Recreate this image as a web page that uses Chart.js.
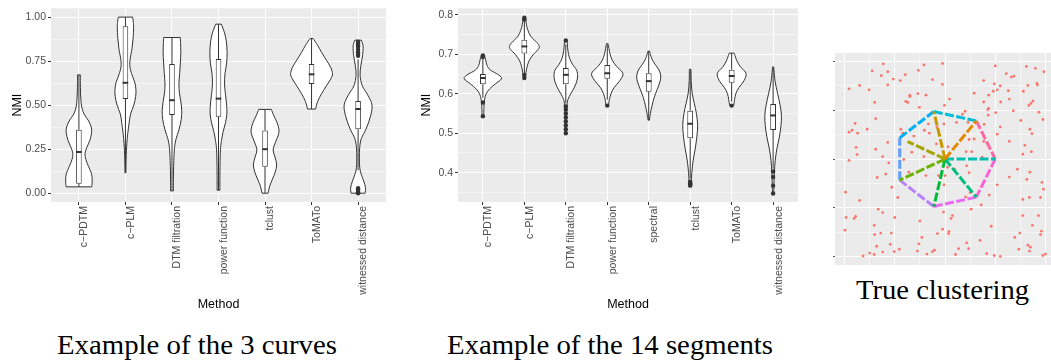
<!DOCTYPE html>
<html><head><meta charset="utf-8">
<script src="https://cdn.jsdelivr.net/npm/chart.js@4.4.1/dist/chart.umd.min.js"></script>
<style>
html,body{margin:0;padding:0;background:#fff;width:1051px;height:360px;overflow:hidden;position:relative;}
canvas{position:absolute;}
.cap{position:absolute;font-family:"Liberation Serif","DejaVu Serif",serif;font-size:26.7px;color:#000;white-space:nowrap;line-height:1;transform-origin:0 0;}
</style></head><body>
<canvas id="c1" width="400" height="312" style="left:0px;top:0px"></canvas>
<canvas id="c2" width="400" height="312" style="left:410px;top:0px"></canvas>
<canvas id="c3" width="240" height="230" style="left:820px;top:40px"></canvas>
<div class="cap" id="cap1">Example of the 3 curves</div>
<div class="cap" id="cap2">Example of the 14 segments</div>
<div class="cap" id="cap3">True clustering</div>
<script>
// ---------- Panel 1: 3 curves ----------
const curvesMethods = ['c\u2212PDTM','c\u2212PLM','DTM filtration','power function','tclust','ToMATo','witnessed distance'];
const curvesYTicks = [0,0.125,0.25,0.375,0.5,0.625,0.75,0.875,1];
const curvesYRange = [-0.05, 1.05];
const curvesLow  = [0.036,0.116,0.013,0.017,0.0,0.478,0.13];
const curvesQ1   = [0.054,0.535,0.444,0.434,0.15,0.62,0.363];
const curvesMed  = [0.234,0.627,0.528,0.537,0.25,0.675,0.478];
const curvesQ3   = [0.36,0.948,0.734,0.762,0.356,0.734,0.524];
const curvesHigh = [0.672,1.0,0.884,0.96,0.476,0.878,0.76];
const curvesOutliers = [[],[],[],[],[],[],[0,0.006,0.012,0.02,0.028,0.78,0.79,0.80,0.815,0.83,0.84,0.85,0.86]];
// violin density profiles: [NMI value, half width in category units]
const curvesViolins = [
 [[0.036,0.276],[0.07,0.285],[0.11,0.272],[0.15,0.21],[0.19,0.15],[0.225,0.13],[0.26,0.17],[0.30,0.235],[0.34,0.27],[0.37,0.27],[0.41,0.21],[0.45,0.11],[0.49,0.06],[0.54,0.04],[0.60,0.032],[0.672,0.03]],
 [[0.116,0.01],[0.2,0.015],[0.28,0.03],[0.34,0.05],[0.40,0.08],[0.45,0.11],[0.50,0.18],[0.55,0.22],[0.59,0.225],[0.63,0.2],[0.68,0.13],[0.72,0.095],[0.76,0.1],[0.82,0.14],[0.88,0.165],[0.94,0.175],[0.97,0.17],[1.0,0.155]],
 [[0.013,0.03],[0.08,0.03],[0.15,0.035],[0.22,0.045],[0.27,0.06],[0.31,0.09],[0.36,0.15],[0.42,0.2],[0.47,0.21],[0.52,0.19],[0.57,0.16],[0.62,0.15],[0.68,0.165],[0.74,0.18],[0.80,0.19],[0.85,0.185],[0.884,0.18]],
 [[0.017,0.03],[0.1,0.03],[0.2,0.035],[0.26,0.045],[0.30,0.065],[0.35,0.1],[0.40,0.15],[0.45,0.18],[0.50,0.175],[0.56,0.15],[0.62,0.13],[0.68,0.14],[0.74,0.175],[0.80,0.185],[0.86,0.17],[0.91,0.13],[0.96,0.06]],
 [[0.0,0.065],[0.04,0.1],[0.08,0.16],[0.12,0.22],[0.16,0.25],[0.2,0.22],[0.245,0.175],[0.29,0.225],[0.33,0.285],[0.36,0.3],[0.40,0.26],[0.44,0.19],[0.476,0.135]],
 [[0.478,0.086],[0.52,0.13],[0.565,0.215],[0.61,0.32],[0.65,0.415],[0.678,0.45],[0.715,0.41],[0.755,0.32],[0.80,0.215],[0.84,0.13],[0.878,0.035]],
 [[0.0,0.15],[0.03,0.16],[0.07,0.12],[0.105,0.07],[0.145,0.035],[0.2,0.028],[0.26,0.035],[0.31,0.07],[0.37,0.18],[0.44,0.27],[0.50,0.3],[0.555,0.215],[0.61,0.09],[0.67,0.043],[0.725,0.06],[0.78,0.095],[0.835,0.107],[0.869,0.07]]
];

// ---------- Panel 2: 14 segments ----------
const segsMethods = ['c\u2212PDTM','c\u2212PLM','DTM filtration','power function','spectral','tclust','ToMATo','witnessed distance'];
const segsYTicks = [0.35,0.4,0.45,0.5,0.55,0.6,0.65,0.7,0.75,0.8];
const segsYRange = [0.3255, 0.8167];
const segsLow  = [0.590,0.652,0.575,0.585,0.533,0.385,0.580,0.410];
const segsQ1   = [0.624,0.702,0.624,0.638,0.605,0.487,0.628,0.508];
const segsMed  = [0.640,0.720,0.648,0.652,0.632,0.524,0.645,0.545];
const segsQ3   = [0.650,0.737,0.665,0.673,0.652,0.557,0.661,0.574];
const segsHigh = [0.690,0.785,0.725,0.725,0.708,0.660,0.703,0.668];
const segsOutliers = [
 [0.543,0.578,0.693,0.697],
 [0.640,0.648,0.788,0.793],
 [0.500,0.510,0.520,0.530,0.540,0.550,0.560,0.568,0.735],
 [0.570],
 [],
 [0.367,0.370,0.373,0.377],
 [0.570],
 [0.347,0.367,0.389,0.403]
];
const segsViolins = [
 [[0.543,0.02],[0.565,0.025],[0.585,0.04],[0.6,0.08],[0.612,0.16],[0.625,0.3],[0.638,0.45],[0.648,0.38],[0.66,0.18],[0.672,0.1],[0.685,0.07],[0.697,0.04]],
 [[0.64,0.03],[0.655,0.04],[0.67,0.07],[0.685,0.12],[0.70,0.22],[0.712,0.33],[0.72,0.36],[0.73,0.3],[0.745,0.16],[0.76,0.09],[0.775,0.05],[0.793,0.03]],
 [[0.5,0.02],[0.54,0.02],[0.57,0.03],[0.585,0.05],[0.6,0.12],[0.615,0.2],[0.63,0.26],[0.645,0.285],[0.66,0.26],[0.675,0.16],[0.69,0.09],[0.71,0.05],[0.735,0.03]],
 [[0.57,0.03],[0.585,0.05],[0.6,0.09],[0.615,0.16],[0.63,0.28],[0.645,0.37],[0.655,0.36],[0.67,0.22],[0.685,0.12],[0.7,0.07],[0.715,0.04],[0.727,0.02]],
 [[0.533,0.015],[0.55,0.04],[0.57,0.08],[0.59,0.13],[0.61,0.2],[0.63,0.27],[0.645,0.29],[0.66,0.25],[0.675,0.15],[0.69,0.07],[0.708,0.02]],
 [[0.367,0.04],[0.38,0.03],[0.40,0.04],[0.43,0.07],[0.46,0.12],[0.49,0.16],[0.52,0.18],[0.55,0.15],[0.575,0.1],[0.6,0.05],[0.63,0.025],[0.662,0.02]],
 [[0.57,0.05],[0.585,0.07],[0.6,0.1],[0.615,0.17],[0.63,0.28],[0.645,0.345],[0.655,0.33],[0.67,0.2],[0.685,0.12],[0.7,0.07],[0.703,0.06]],
 [[0.347,0.015],[0.37,0.02],[0.4,0.03],[0.43,0.05],[0.46,0.09],[0.49,0.15],[0.52,0.19],[0.545,0.2],[0.57,0.17],[0.6,0.11],[0.63,0.05],[0.66,0.02],[0.668,0.015]]
];

// ---------- Panel 3: true clustering ----------
const clusterXRange = [-2.19, 2.19];
const clusterYRange = [-2.175, 2.175];
const clusterTicks = [-2,-1.5,-1,-0.5,0,0.5,1,1.5,2];
const noiseX = [-1.23,-1.45,-1.14,-1.27,-1.03,-0.89,-0.79,-0.53,-0.42,-0.25,-1.14,-1.91,-1.70,-1.51,-0.70,-0.70,-0.54,-0.38,-1.40,-0.78,-0.74,-0.51,-0.01,-1.38,-1.79,-1.85,-1.91,-1.74,-1.55,-0.88,-0.84,-0.62,-0.33,-0.41,-0.31,-0.16,-0.02,-1.14,-1.77,-1.38,-1.75,-1.24,-0.66,-0.45,-0.17,-0.42,
 -0.05,-0.05,1.00,1.62,1.80,1.97,1.22,1.32,1.37,0.77,0.98,1.10,1.65,1.83,1.84,1.04,0.96,1.26,1.56,0.58,0.87,1.28,1.11,0.77,1.75,1.71,1.67,0.09,0.87,0.85,1.01,1.36,1.87,0.40,0.35,0.86,1.95,1.51,0.23,0.46,0.78,1.10,1.69,1.73,1.04,0.48,0.58,0.77,1.28,0.06,1.59,0.42,0.53,1.72,1.55,0.74,
 -1.91,-1.12,-0.82,-1.18,-1.35,-0.72,-0.38,-1.06,-1.98,-1.70,-0.94,-0.68,-1.33,-1.24,-1.97,-1.81,-1.78,-1.00,-0.50,-1.41,-1.99,-1.40,-1.28,-1.07,-0.46,-0.15,-0.52,-1.36,-1.09,-1.63,-1.50,-1.41,-1.24,-1.01,-0.91,-0.55,-0.36,-0.25,-0.21,-0.03,-0.02,-0.13,
 0.43,0.05,0.19,0.48,0.00,1.44,1.69,1.28,1.63,1.93,1.04,1.96,0.88,0.41,0.50,1.55,1.68,1.90,0.72,0.52,0.15,0.12,1.55,1.86,0.92,1.74,-0.05,0.08,0.07,1.49,1.39,1.90,1.92,0.70,0.43,1.65,1.70,1.68,1.47,0.27,0.47,0.21,0.83,0.98,1.10,1.95,2.00];
const noiseY = [1.95,1.81,1.79,1.71,1.64,1.61,1.73,1.82,1.93,1.63,1.52,1.44,1.51,1.42,1.31,1.28,1.34,1.31,1.16,1.18,1.16,1.06,1.10,0.83,0.73,0.59,0.55,0.53,0.61,0.61,0.53,0.47,0.72,0.59,0.53,0.66,0.72,0.34,0.24,0.20,0.09,0.05,0.14,0.23,0.31,0.05,
 1.96,1.53,1.91,1.90,1.86,1.79,1.75,1.68,1.70,1.61,1.54,1.50,1.51,1.55,1.52,1.42,1.39,1.40,1.39,1.35,1.31,1.23,1.17,1.17,1.19,1.14,1.10,1.23,1.04,1.01,0.95,0.99,0.96,0.98,0.92,0.90,0.81,0.79,0.75,0.75,0.71,0.66,0.61,0.52,0.51,0.40,0.41,0.36,0.36,0.25,0.28,0.15,0.15,0.15,0.10,0.04,
 -0.03,-0.08,-0.01,-0.31,-0.38,-0.27,-0.34,-0.58,-0.68,-0.85,-0.79,-0.61,-1.03,-1.10,-1.20,-1.22,-1.18,-1.20,-1.27,-1.36,-1.46,-1.55,-1.52,-1.52,-1.61,-1.53,-1.74,-1.79,-1.75,-1.99,-1.93,-1.96,-1.91,-1.90,-1.85,-1.89,-1.95,-1.90,-1.87,-1.09,-0.53,-0.34,
 -0.14,-0.17,-0.21,-0.28,-0.34,-0.21,-0.27,-0.37,-0.42,-0.48,-0.53,-0.62,-0.74,-0.78,-0.69,-0.83,-0.79,-0.79,-0.94,-1.03,-1.16,-1.22,-1.16,-1.16,-1.38,-1.36,-1.44,-1.49,-1.53,-1.52,-1.61,-1.55,-1.48,-1.67,-1.72,-1.77,-1.81,-1.89,-1.85,-1.84,-1.84,-1.96,-1.94,-1.98,-2.00,-1.98,-1.95];
// 7 spokes (center -> vertex) then 7 heptagon edges
const segX0 = [0,0,0,0,0,0,0,      -0.223,-0.901,-0.901,-0.223,0.623,1.000,0.623];
const segY0 = [0,0,0,0,0,0,0,       0.975, 0.434,-0.434,-0.975,-0.782,0.000,0.782];
const segX1 = [0.623,-0.223,-0.744,-0.901,-0.223,0.623,1.000, 0.623,-0.223,-0.901,-0.901,-0.223,0.623,1.000];
const segY1 = [0.782, 0.975, 0.358,-0.434,-0.975,-0.782,0.000, 0.782, 0.975, 0.434,-0.434,-0.975,-0.782,0.000];
const segColors = ['#E58700','#C99800','#A3A500','#6BB100','#00BA38','#00BF7D','#00C0AF',
                   '#00BCD8','#00B0F6','#619CFF','#B983FF','#E76BF3','#FD61D1','#FF67A4'];

// ---------- drawing helpers ----------
Chart.defaults.font.family = "'Liberation Sans', Arial, sans-serif";
const INK = '#333333';
const panelBg = {
  id: 'panelBg',
  beforeDraw(chart) {
    const {ctx, chartArea: a} = chart;
    ctx.save(); ctx.fillStyle = '#EBEBEB';
    ctx.fillRect(a.left, a.top, a.right - a.left, a.bottom - a.top);
    ctx.restore();
  }
};
function curveThrough(ctx, pts) {
  for (let i = 0; i < pts.length - 1; i++) {
    const p0 = pts[i - 1] || pts[i], p1 = pts[i], p2 = pts[i + 1], p3 = pts[i + 2] || pts[i + 1];
    ctx.bezierCurveTo(p1[0] + (p2[0] - p0[0]) / 6, p1[1] + (p2[1] - p0[1]) / 6,
                      p2[0] - (p3[0] - p1[0]) / 6, p2[1] - (p3[1] - p1[1]) / 6, p2[0], p2[1]);
  }
}
function violinPlugin(violins, low, q1, med, q3, high) {
  return {
    id: 'violins',
    beforeDatasetsDraw(chart) {
      const {ctx, chartArea: a, scales: {x, y}} = chart;
      const unit = x.getPixelForValue(2) - x.getPixelForValue(1);
      ctx.save();
      ctx.beginPath(); ctx.rect(a.left, a.top, a.right - a.left, a.bottom - a.top); ctx.clip();
      violins.forEach((prof, i) => {
        const cx = x.getPixelForValue(i + 1);
        const right = prof.map(([v, w]) => [cx + w * unit, y.getPixelForValue(v)]);
        const left = prof.slice().reverse().map(([v, w]) => [cx - w * unit, y.getPixelForValue(v)]);
        ctx.beginPath();
        ctx.moveTo(left[left.length - 1][0], left[left.length - 1][1]);
        ctx.lineTo(right[0][0], right[0][1]);
        curveThrough(ctx, right);
        ctx.lineTo(left[0][0], left[0][1]);
        curveThrough(ctx, left);
        ctx.closePath();
        ctx.fillStyle = '#fff'; ctx.fill();
        ctx.strokeStyle = INK; ctx.lineWidth = 1; ctx.lineJoin = 'round'; ctx.stroke();
        ctx.beginPath();
        ctx.moveTo(cx, y.getPixelForValue(low[i])); ctx.lineTo(cx, y.getPixelForValue(q1[i]));
        ctx.moveTo(cx, y.getPixelForValue(q3[i])); ctx.lineTo(cx, y.getPixelForValue(high[i]));
        ctx.stroke();
      });
      ctx.restore();
    },
    afterDatasetsDraw(chart) {
      const {ctx, scales: {y}} = chart;
      const meta = chart.getDatasetMeta(0);
      ctx.save(); ctx.strokeStyle = INK; ctx.lineWidth = 2;
      meta.data.forEach((el, i) => {
        const {x: bx, width: bw} = el.getProps(['x', 'width'], true);
        const py = y.getPixelForValue(med[i]);
        ctx.beginPath(); ctx.moveTo(bx - bw / 2, py); ctx.lineTo(bx + bw / 2, py); ctx.stroke();
      });
      ctx.restore();
    }
  };
}
function violinChart(id, cfg) {
  const m = cfg.methods;
  return new Chart(document.getElementById(id), {
    type: 'scatter',
    data: { datasets: [
      { type: 'bar', data: m.map((_, i) => ({x: i + 1, y: [cfg.q1[i], cfg.q3[i]]})),
        backgroundColor: '#fff', borderColor: INK, borderWidth: 1, borderSkipped: false,
        barPercentage: cfg.boxPct, categoryPercentage: 1, order: 2 },
      { type: 'scatter', data: cfg.outliers.flatMap((arr, i) => arr.map(v => ({x: i + 1, y: v}))),
        pointRadius: 2.2, pointBackgroundColor: INK, pointBorderWidth: 0, order: 1 }
    ]},
    options: {
      responsive: false, animation: false, events: [],
      layout: { padding: { left: 0, right: cfg.padRight, top: 4, bottom: 0 } },
      plugins: { legend: { display: false }, tooltip: { enabled: false } },
      scales: {
        x: {
          type: 'linear', min: 0.4, max: m.length + 0.6, offset: false,
          afterBuildTicks: s => { s.ticks = m.map((_, i) => ({value: i + 1})); },
          afterFit: s => { s.height = 110; },
          ticks: { autoSkip: false, minRotation: 90, maxRotation: 90, color: '#4D4D4D',
                   font: { size: 10.5 }, padding: 1, labelOffset: 5.5,
                   callback: v => m[Math.round(v) - 1] },
          grid: { color: '#fff', lineWidth: 1, tickColor: INK, tickWidth: 1, tickLength: 3, offset: false },
          border: { display: false },
          title: { display: true, text: 'Method', color: '#000', font: { size: 12.5 }, padding: { top: 0, bottom: 0 } }
        },
        y: {
          min: cfg.yRange[0], max: cfg.yRange[1],
          afterBuildTicks: s => { s.ticks = cfg.yTicks.map(v => ({value: v})); },
          afterFit: s => { s.width = cfg.yWidth; },
          ticks: { color: '#4D4D4D', font: { size: 10.5 }, padding: 2,
                   callback: v => cfg.isMajor(v) ? cfg.fmt(v) : '' },
          grid: { color: '#fff', lineWidth: c => cfg.isMajor(c.tick.value) ? 1 : 0.5,
                  tickColor: c => cfg.isMajor(c.tick.value) ? INK : 'rgba(0,0,0,0)',
                  tickWidth: 1, tickLength: 3 },
          border: { display: false },
          title: { display: true, text: 'NMI', color: '#000', font: { size: 12.5 }, padding: { top: cfg.titlePad, bottom: 0 } }
        }
      }
    },
    plugins: [panelBg, violinPlugin(cfg.violins, cfg.low, cfg.q1, cfg.med, cfg.q3, cfg.high)]
  });
}

violinChart('c1', { methods: curvesMethods, yRange: curvesYRange, yTicks: curvesYTicks,
  isMajor: v => Math.abs(v * 4 - Math.round(v * 4)) < 1e-6, fmt: v => v.toFixed(2),
  yWidth: 51, padRight: 14, titlePad: 10.5, boxPct: 0.12,
  violins: curvesViolins, low: curvesLow, q1: curvesQ1, med: curvesMed, q3: curvesQ3, high: curvesHigh, outliers: curvesOutliers });

violinChart('c2', { methods: segsMethods, yRange: segsYRange, yTicks: segsYTicks,
  isMajor: v => Math.abs(v * 10 - Math.round(v * 10)) < 1e-6, fmt: v => v.toFixed(1),
  yWidth: 48, padRight: 12, titlePad: 9.5, boxPct: 0.14,
  violins: segsViolins, low: segsLow, q1: segsQ1, med: segsMed, q3: segsQ3, high: segsHigh, outliers: segsOutliers });

const isInt = v => Math.abs(v - Math.round(v)) < 1e-6;
new Chart(document.getElementById('c3'), {
  type: 'scatter',
  data: { datasets: [
    ...segX0.map((_, i) => ({
      data: [{x: segX0[i], y: segY0[i]}, {x: segX1[i], y: segY1[i]}],
      showLine: true, borderColor: segColors[i], borderWidth: 3, borderDash: [9, 2.5],
      pointRadius: 0, order: 1 })),
    { data: noiseX.map((x, i) => ({x, y: noiseY[i]})), pointRadius: 1.4,
      pointBackgroundColor: '#F8766D', pointBorderWidth: 0, order: 2 }
  ]},
  options: {
    responsive: false, animation: false, events: [],
    layout: { padding: { left: 0, right: 5, top: 13, bottom: 0 } },
    plugins: { legend: { display: false }, tooltip: { enabled: false } },
    scales: {
      x: { type: 'linear', min: clusterXRange[0], max: clusterXRange[1],
           afterBuildTicks: s => { s.ticks = clusterTicks.map(v => ({value: v})); },
           afterFit: s => { s.height = 5; },
           ticks: { display: false },
           grid: { color: '#fff', lineWidth: c => isInt(c.tick.value) ? 1 : 0.5, drawTicks: false },
           border: { display: false } },
      y: { type: 'linear', min: clusterYRange[0], max: clusterYRange[1],
           afterBuildTicks: s => { s.ticks = clusterTicks.map(v => ({value: v})); },
           afterFit: s => { s.width = 15; },
           ticks: { display: false },
           grid: { color: '#fff', lineWidth: c => isInt(c.tick.value) ? 1 : 0.5,
                   tickColor: c => isInt(c.tick.value) ? '#555' : 'rgba(0,0,0,0)', tickWidth: 1, tickLength: 2 },
           border: { display: false } }
    }
  },
  plugins: [panelBg]
});

// captions (serif, fitted to the reference widths)
function placeCaption(id, left, baseline, width) {
  const el = document.getElementById(id);
  const w = el.getBoundingClientRect().width;
  el.style.left = left + 'px';
  el.style.top = (baseline - 22.36) + 'px';
  el.style.transform = 'scaleX(' + (width / w) + ')';
}
placeCaption('cap1', 56.5, 354, 280);
placeCaption('cap2', 447, 354, 326);
placeCaption('cap3', 856, 299.3, 173);
</script>
</body></html>
